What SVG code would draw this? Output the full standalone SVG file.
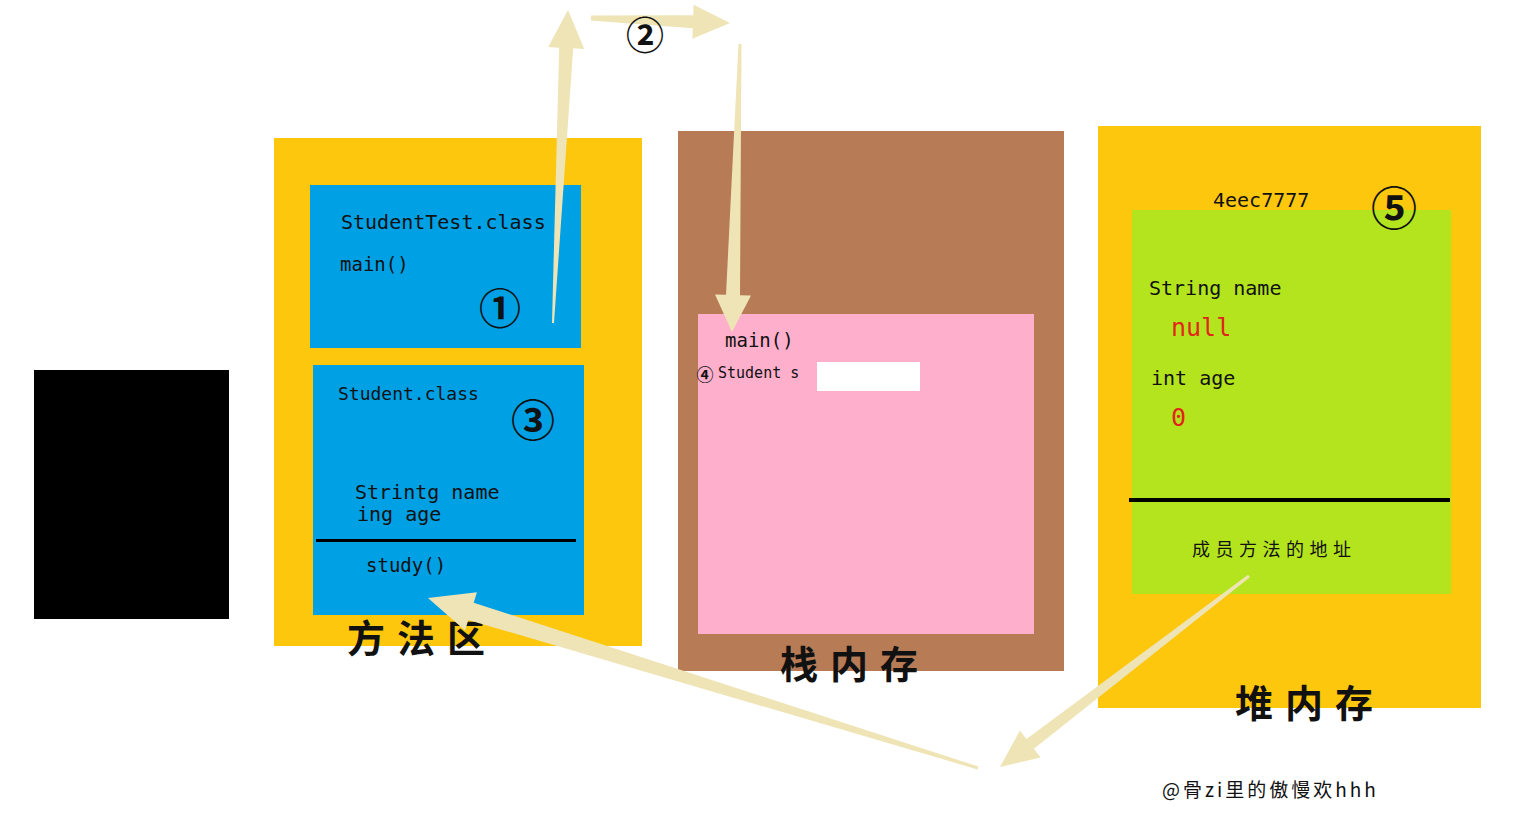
<svg xmlns="http://www.w3.org/2000/svg" width="1516" height="827" viewBox="0 0 1516 827">
<style>
.mono{font-family:"DejaVu Sans Mono","Liberation Mono",monospace;fill:#111;}
.cjk{font-family:"Noto Sans CJK SC","Noto Sans",sans-serif;fill:#111;}
.big{font-family:"Noto Sans CJK SC",sans-serif;font-size:38px;font-weight:bold;fill:#111;letter-spacing:12px;}
.red{font-family:"DejaVu Sans Mono","Liberation Mono",monospace;fill:#E0261B;}
.arrow{fill:#EEE4B5;}
.circ{font-family:"Noto Sans CJK SC","DejaVu Sans",sans-serif;font-weight:bold;fill:#111;text-anchor:middle;}
</style>
<rect width="1516" height="827" fill="#ffffff"/>
<g id="black-box"><rect x="34" y="370" width="195" height="249" fill="#000"/></g>
<g id="method-area">
  <rect x="274" y="138" width="368" height="508" fill="#FDC70E"/>
  <text class="big" x="347" y="652">方法区</text>
</g>
<g id="studenttest-class">
  <rect x="310" y="185" width="271" height="163" fill="#00A0E5"/>
  <text class="mono" x="341" y="229" font-size="20">StudentTest.class</text>
  <text class="mono" x="340" y="271" font-size="19">main()</text>
  <text class="circ" x="500" y="324" font-size="42">①</text>
</g>
<g id="student-class">
  <rect x="313" y="365" width="271" height="250" fill="#00A0E5"/>
  <text class="mono" x="338" y="400" font-size="18">Student.class</text>
  <text class="circ" x="533" y="437" font-size="44">③</text>
  <text class="mono" x="355" y="499" font-size="20">Strintg name</text>
  <text class="mono" x="357" y="521" font-size="20">ing age</text>
  <line x1="316" y1="540.5" x2="576" y2="540.5" stroke="#000" stroke-width="3"/>
  <text class="mono" x="366" y="572" font-size="19">study()</text>
</g>
<g id="stack">
  <rect x="678" y="131" width="386" height="540" fill="#B77B56"/>
  <text class="big" x="780" y="678">栈内存</text>
</g>
<g id="stack-frame">
  <rect x="698" y="314" width="336" height="320" fill="#FEAFCB"/>
  <text class="mono" x="725" y="347" font-size="19">main()</text>
  <text class="circ" x="705" y="381" font-size="17">④</text>
  <text class="mono" x="718" y="378" font-size="15">Student s</text>
  <rect x="817" y="362" width="103" height="29" fill="#fff"/>
</g>
<g id="heap">
  <rect x="1098" y="126" width="383" height="582" fill="#FDC70E"/>
  <text class="big" x="1235" y="717">堆内存</text>
</g>
<g id="student-object">
  <rect x="1132" y="210" width="319" height="384" fill="#B4E41E"/>
  <text class="mono" x="1213" y="207" font-size="20">4eec7777</text>
  <text class="circ" x="1394" y="225" font-size="46">⑤</text>
  <text class="mono" x="1149" y="295" font-size="20">String name</text>
  <text class="red" x="1171" y="336" font-size="25">null</text>
  <text class="mono" x="1151" y="385" font-size="20">int age</text>
  <text class="red" x="1171" y="426" font-size="25">0</text>
  <line x1="1129" y1="500" x2="1450" y2="500" stroke="#000" stroke-width="4"/>
  <text class="cjk" x="1192" y="556" font-size="18" letter-spacing="5.5">成员方法的地址</text>
</g>
<g id="connectors">
  <polygon class="arrow" points="552,323 559.2,47.7 548.2,47.1 568,10 584.2,48.9 573.2,48.3 554,323"/>
  <polygon class="arrow" points="591.1,15.5 693.2,15.2 693.6,4.7 730,23 692.4,38.7 692.8,28.2 590.9,20.5"/>
  <text class="circ" x="645" y="49" font-size="38">②</text>
  <polygon class="arrow" points="738.5,44 726,294.8 715,294.5 732,332 751,295.5 740,295.2 741.5,44"/>
  <polygon class="arrow" points="978.4,766.6 473.7,602.7 476.9,592.2 428,598 465.1,630.4 468.3,619.9 977.6,769.4"/>
  <polygon class="arrow" points="1248.1,574.8 1026.5,739.1 1019.9,730.4 1000,767 1040.5,757.4 1033.9,748.7 1249.9,577.2"/>
</g>
<g id="watermark">
  <text class="cjk" x="1162" y="797" font-size="19" letter-spacing="3">@骨zi里的傲慢欢hhh</text>
</g>
</svg>
